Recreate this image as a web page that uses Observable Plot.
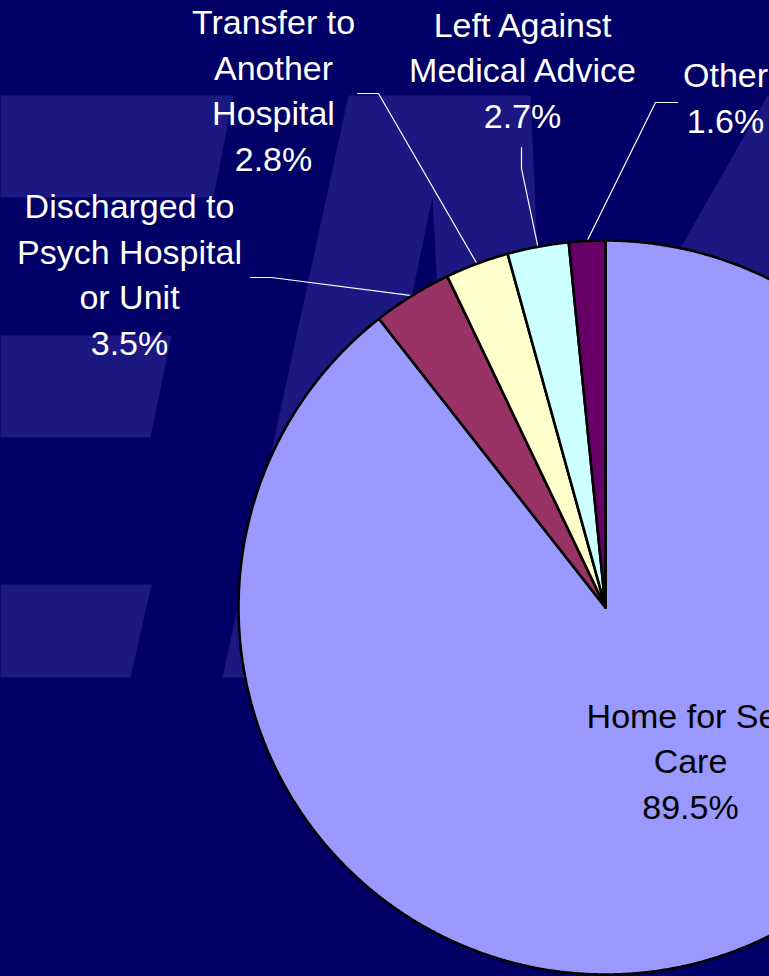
<!DOCTYPE html>
<html>
<head>
<meta charset="utf-8">
<script src="https://cdn.jsdelivr.net/npm/d3@7"></script>
<script src="https://cdn.jsdelivr.net/npm/@observablehq/plot@0.6"></script>
<style>
  html, body { margin: 0; padding: 0; background: #000066; overflow: hidden; }
  #chart svg { display: block; }
</style>
</head>
<body>
<div id="chart"></div>
<script>
// ---- Data ----
const categories = ["Home for Self Care", "Discharged to Psych Hospital or Unit", "Transfer to Another Hospital", "Left Against Medical Advice", "Other"];
const labelNames = ["Home for Self\nCare", "Discharged to\nPsych Hospital\nor Unit", "Transfer to\nAnother\nHospital", "Left Against\nMedical Advice", "Other"];
const values = [89.5, 3.5, 2.8, 2.7, 1.6];
const sliceColors = ["#9999ff", "#993366", "#ffffcc", "#ccffff", "#660066"];
const labelColors = ["#000000", "#ffffff", "#ffffff", "#ffffff", "#ffffff"];

// ---- Layout (pixel space) ----
const W = 769, H = 976;
const cx = 605, cy = 607, R = 367;
// label anchor: x centre, y = baseline of last line
const labelX = [690, 129, 273, 522, 725];
const labelY = [818, 354, 170, 127, 132];
// leader lines: [start point, elbow point]; end point is computed on the rim
const leaderStart = [null, [250, 277], [357, 93], [521, 147], [677, 102]];
const leaderElbow = [null, [271, 277], [378, 93], [521, 168], [655, 102]];

// background watermark shapes (decoration)
const bgShapes = [
  [[0, 95], [233, 95], [213, 197], [0, 197]],
  [[0, 335], [171, 335], [150, 437], [0, 437]],
  [[0, 584], [151, 584], [130, 677], [0, 677]],
  [[348, 95], [530, 95], [556, 677], [222, 677]],
  [[767, 95], [900, 95], [900, 677], [435, 677]]
];
const bgNotch = [[432, 196], [400, 350], [440, 350]];

// ---- Build tables ----
const arcs = d3.pie().sort(null).value(d => d)(values);
const polar = (a, r) => [cx + r * Math.sin(a), cy - r * Math.cos(a)];

const slicePts = [];
arcs.forEach((a, i) => {
  const n = Math.max(2, Math.ceil((a.endAngle - a.startAngle) / 0.004));
  slicePts.push({k: i, x: cx, y: cy, c: sliceColors[i]});
  for (let j = 0; j <= n; j++) {
    const t = a.startAngle + (a.endAngle - a.startAngle) * j / n;
    const [x, y] = polar(t, R);
    slicePts.push({k: i, x, y, c: sliceColors[i]});
  }
  slicePts.push({k: i, x: cx, y: cy, c: sliceColors[i]});
});

const leaderPts = [];
arcs.forEach((a, i) => {
  if (!leaderStart[i]) return;
  const mid = (a.startAngle + a.endAngle) / 2;
  const [ex, ey] = polar(mid, R);
  leaderPts.push({k: i, x: leaderStart[i][0], y: leaderStart[i][1]});
  leaderPts.push({k: i, x: leaderElbow[i][0], y: leaderElbow[i][1]});
  leaderPts.push({k: i, x: ex, y: ey});
});

const labels = values.map((v, i) => ({
  x: labelX[i], y: labelY[i],
  text: labelNames[i] + "\n" + v.toFixed(1) + "%",
  color: labelColors[i]
}));

const bgPts = [];
bgShapes.forEach((s, k) => s.forEach(([x, y]) => bgPts.push({k, x, y})));
const notchPts = bgNotch.map(([x, y]) => ({k: 0, x, y}));

const font = "'Liberation Sans', Arial, Helvetica, sans-serif";

const chart = Plot.plot({
  width: W,
  height: H,
  margin: 0,
  x: {domain: [0, W], range: [0, W], axis: null},
  y: {domain: [0, H], range: [0, H], axis: null},
  color: {type: "identity"},
  style: {background: "#000066", fontFamily: font, overflow: "hidden"},
  marks: [
    Plot.line(bgPts, {x: "x", y: "y", z: "k", fill: "#1c1881", stroke: null, curve: "linear-closed"}),
    Plot.line(notchPts, {x: "x", y: "y", z: "k", fill: "#000066", stroke: null, curve: "linear-closed"}),
    Plot.line(leaderPts, {x: "x", y: "y", z: "k", stroke: "#ffffff", strokeWidth: 1.2}),
    Plot.line(slicePts, {x: "x", y: "y", z: "k", fill: "c", stroke: "#000000", strokeWidth: 2.6, strokeLinejoin: "miter", clip: true}),
    Plot.text(labels, {
      x: "x", y: "y", text: "text", fill: "color",
      fontSize: 34, lineHeight: 1.338, lineAnchor: "bottom", textAnchor: "middle",
      fontFamily: font
    })
  ]
});
document.getElementById("chart").appendChild(chart);
</script>
</body>
</html>
